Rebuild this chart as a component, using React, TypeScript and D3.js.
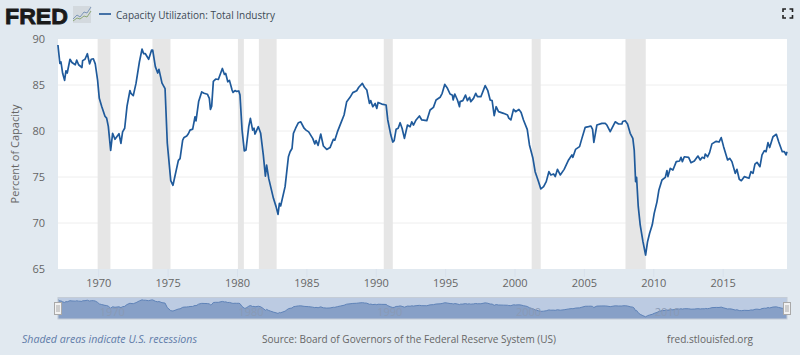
import React from "react";
import * as d3 from "d3";

const years = [1967,1967.14,1967.22,1967.34,1967.48,1967.58,1967.67,1967.87,1968.01,1968.25,1968.35,1968.49,1968.73,1968.78,1968.95,1969.12,1969.28,1969.4,1969.55,1969.69,1969.86,1969.98,1970.15,1970.39,1970.51,1970.63,1970.8,1970.94,1971.11,1971.4,1971.54,1971.66,1971.81,1971.98,1972.19,1972.26,1972.43,1972.63,1972.87,1973.06,1973.18,1973.3,1973.54,1973.75,1973.83,1974.02,1974.19,1974.28,1974.5,1974.72,1974.88,1975.13,1975.29,1975.68,1975.8,1975.99,1976.09,1976.28,1976.4,1976.52,1976.71,1976.88,1976.95,1977.14,1977.36,1977.53,1977.77,1977.91,1977.99,1978.08,1978.2,1978.37,1978.56,1978.85,1979,1979.09,1979.24,1979.36,1979.55,1979.62,1979.76,1979.88,1980.03,1980.12,1980.27,1980.43,1980.55,1980.75,1980.87,1981.03,1981.13,1981.2,1981.44,1981.61,1981.8,1981.95,1982.04,1982.19,1982.33,1982.53,1982.72,1982.86,1982.96,1983.05,1983.37,1983.61,1983.73,1983.87,1983.97,1984.13,1984.33,1984.5,1984.74,1984.88,1985.07,1985.36,1985.51,1985.6,1985.75,1985.94,1986.13,1986.37,1986.61,1986.85,1986.95,1987.14,1987.38,1987.62,1987.81,1988.05,1988.25,1988.53,1988.68,1988.94,1989.09,1989.26,1989.45,1989.54,1989.69,1989.86,1989.98,1990.07,1990.34,1990.65,1990.77,1990.99,1991.13,1991.23,1991.37,1991.52,1991.66,1991.8,1991.97,1992.19,1992.38,1992.5,1992.62,1992.81,1993.05,1993.22,1993.58,1993.82,1994.06,1994.25,1994.54,1994.69,1994.88,1995.07,1995.26,1995.43,1995.48,1995.6,1995.79,1995.94,1995.98,1996.18,1996.37,1996.51,1996.66,1996.75,1996.95,1997.11,1997.23,1997.48,1997.79,1997.98,1998.15,1998.29,1998.44,1998.58,1998.75,1999.11,1999.4,1999.49,1999.64,1999.83,1999.98,2000.22,2000.38,2000.55,2000.82,2000.98,2001.23,2001.39,2001.63,2001.8,2002,2002.19,2002.38,2002.52,2002.72,2002.84,2003,2003.2,2003.48,2003.8,2004.04,2004.11,2004.3,2004.59,2004.76,2005,2005.24,2005.41,2005.53,2005.62,2005.84,2006.2,2006.44,2006.56,2006.8,2007.16,2007.4,2007.64,2007.7,2007.88,2008.05,2008.24,2008.43,2008.53,2008.63,2008.7,2008.82,2008.96,2009.16,2009.35,2009.49,2009.64,2009.83,2009.97,2010.17,2010.31,2010.53,2010.77,2010.89,2010.96,2011.13,2011.32,2011.56,2011.8,2011.9,2012,2012.14,2012.45,2012.62,2012.86,2013.12,2013.29,2013.43,2013.58,2013.65,2013.82,2013.96,2014.13,2014.44,2014.64,2014.8,2014.97,2015.26,2015.41,2015.57,2015.81,2015.93,2016.1,2016.25,2016.46,2016.8,2016.94,2017.09,2017.23,2017.38,2017.59,2017.74,2017.91,2018.03,2018.17,2018.29,2018.53,2018.77,2018.94,2019.2,2019.35,2019.47,2019.54];
const values = [89.35,87.35,87.5,86.27,85.5,86.55,86.3,87.8,87.45,87.2,87.7,87.2,86.9,87.65,87.8,88.4,87.3,87.8,87.85,87.3,85.5,83.55,82.7,81.6,81.4,80.5,77.9,79.75,79.1,79.7,78.65,79.9,80.3,82.7,84.4,84.1,83.85,85.2,87.5,88.9,88.4,88.4,87.8,88.8,88.8,87,86.3,86.7,85.2,84.6,78.7,74.6,74.1,76.8,77,79,79.3,79.45,79.7,80.1,80.2,81.55,81.1,83.2,84.25,84.1,84,83.55,82.35,82.7,85.4,85.65,85.6,86.8,86.15,86.25,85.35,85.5,84.45,84.2,84.4,84.3,84.35,83.9,80.1,77.83,77.93,80.47,81.38,80.1,80.3,79.67,80.47,79.75,77.4,75.1,76.3,74.85,73.95,72.68,71.78,70.94,72.14,71.85,73.95,77.2,77.75,78.1,79.75,80.3,80.9,81,80.3,80.1,79.9,79.2,78.6,78.95,78.44,79.67,78.37,78,78.2,79.1,79,79.9,80.83,81.74,83.19,83.66,84.17,84.38,84.75,85.18,84.75,84.46,83,83.3,82.64,83,82.46,83.1,82.93,82.83,81.2,79.56,78.8,78.95,80.18,80.3,80.9,80.3,79.2,80.65,80.47,81,80.65,81.2,81.63,81.2,81.12,82.28,82.57,83.37,83.66,84.1,85.07,84.64,84.02,83.88,83.37,84.02,83.37,82.64,83.19,83.3,83.91,83.3,83.66,83.19,83.55,84.1,83.73,83.73,84.93,84.38,83.37,83.3,81.67,82.64,82.1,81.92,81.74,81.4,81.2,82.35,82.1,82.35,82,81.2,80.18,78.48,77.03,75.58,74.5,73.7,73.95,74.5,75.58,75.22,75.33,75.05,75.83,75.22,75.83,76.85,77.4,77.14,78,78.3,79.2,80.4,80.47,80.54,80.18,78.77,80.65,80.83,80.83,80.65,79.93,81,80.76,80.76,81.03,81.12,80.76,79.75,79.2,77.93,74.5,74.96,71.8,69.8,67.97,66.52,67.97,68.88,69.8,71.05,72.3,73.6,74.67,74.96,75.7,75.04,75.94,75.76,76.67,76.74,77.14,76.67,77.2,77.14,76.56,76.74,77.28,76.85,77.14,77.03,77.5,77.2,77.65,78.6,78.88,78.8,79.28,78.3,76.85,77.03,76.67,75.4,75.84,74.75,74.6,75.04,74.86,75.58,75.4,76.4,76.6,76.12,77.4,77.86,77.75,78.73,78.2,79.38,79.64,78.84,77.75,77.75,77.4,77.75];

const recessionStarts = [1969.92,1973.87,1980.03,1981.54,1990.54,2001.2,2007.96];
const recessionEnds = [1970.84,1975.17,1980.46,1982.82,1991.19,2001.85,2009.42];
const yTicks = [65,70,75,80,85,90];
const xTicks = [1970,1975,1980,1985,1990,1995,2000,2005,2010,2015];
const navTicks = [1970,1980,1990,2000,2010];
// the dates above were read about 0.06 of a year early
const READING_SHIFT = 0.06;

const FONT = "'Open Sans', 'Noto Sans', sans-serif";
const W = 800, H = 355;
const left = 58, right = 787, top = 39, bottom = 269;
const navTop = 298, navBottom = 319;

export default function App() {
  const x = d3.scaleLinear().domain([1967, 2019.6]).range([57.1, right]);
  const y = d3.scaleLinear().domain([65, 90]).range([bottom, top]);
  const ny = d3.scaleLinear().domain([66.5, 89.35]).range([316.8, 299.5]);
  const pts = years.map((t, i) => [t + READING_SHIFT, values[i]] as [number, number]);
  const line = d3.line<[number, number]>().x(d => x(d[0])).y(d => y(d[1]));
  const navLine = d3.line<[number, number]>().x(d => x(d[0])).y(d => ny(d[1]));
  const navArea = d3.area<[number, number]>().x(d => x(d[0])).y0(navBottom).y1(d => ny(d[1]));

  return (
    <svg width={W} height={H} viewBox={`0 0 ${W} ${H}`}
      style={{ position: "fixed", left: 0, top: 0, display: "block", fontFamily: FONT }}>
      <rect width={W} height={H} fill="#e1e9f0" />

      {/* logo */}
      <text x={5} y={23.5} fontFamily="'Liberation Sans', sans-serif" fontWeight={700} fontSize={22.5}
        fill="#1a1a1a" stroke="#1a1a1a" strokeWidth={0.8} textLength={63} lengthAdjust="spacingAndGlyphs">FRED</text>
      <rect x={73} y={6} width={18} height={17} fill="#d3d9de" />
      <polyline points="73,19 77,15 80,17 84,12 87,13 91,7" fill="none" stroke="#7d97b8" strokeWidth={1} />
      <polyline points="73,21 77,18 80,19 84,16 87,17 91,11" fill="none" stroke="#8da878" strokeWidth={1} />

      {/* legend */}
      <line x1={99} x2={111} y1={14} y2={14} stroke="#4572a7" strokeWidth={2} />
      <text x={116} y={18.5} fontSize={11.3} fill="#3d4a55" textLength={159} lengthAdjust="spacingAndGlyphs">Capacity Utilization: Total Industry</text>

      {/* fullscreen icon */}
      <g stroke="#222" strokeWidth={1.6} fill="none">
        <path d="M783,12 V9 H786" /><path d="M789.5,9 H792.5 V12" /><path d="M792.5,15 V18 H789.5" /><path d="M786,18 H783 V15" />
      </g>

      {/* plot */}
      <rect x={left} y={top} width={right - left} height={bottom - top} fill="#fff" />
      {yTicks.slice(1, -1).map(t => (
        <line key={t} x1={left} x2={right} y1={y(t)} y2={y(t)} stroke="#eeeeee" strokeWidth={1} />
      ))}
      {recessionStarts.map((s, i) => (
        <rect key={s} x={x(s)} y={top} width={x(recessionEnds[i]) - x(s)} height={bottom - top} fill="#e6e6e6" />
      ))}
      {yTicks.map(t => (
        <text key={t} x={45} y={y(t) + 4} textAnchor="end" fontSize={11} fill="#666">{t}</text>
      ))}
      {xTicks.map(t => (
        <g key={t}>
          <line x1={x(t)} x2={x(t)} y1={bottom} y2={bottom + 8} stroke="#d8e1ec" strokeWidth={1} />
          <text x={x(t)} y={287} textAnchor="middle" fontSize={11} fill="#666">{t}</text>
        </g>
      ))}
      <path d={line(pts) ?? ""} fill="none" stroke="#1f5a9b" strokeWidth={1.7} strokeLinejoin="round" />

      <text transform="translate(19,154) rotate(-90)" textAnchor="middle" fontSize={11} fill="#666">Percent of Capacity</text>

      {/* navigator */}
      <rect x={left} y={navTop} width={right - left} height={navBottom - navTop} fill="#bccbe2" />
      <path d={navArea(pts) ?? ""} fill="#87a0c7" />
      <path d={navLine(pts) ?? ""} fill="none" stroke="#5f83b8" strokeWidth={1} />
      {navTicks.map(t => (
        <text key={t} x={x(t) + 13.5} y={316} textAnchor="middle" fontSize={11} fill="#8a9ab5">{t}</text>
      ))}
      <rect x={left} y={297.5} width={right - left} height={21.5} fill="none" stroke="#c4ccd6" strokeWidth={1} />
      {[left, right].map(h => (
        <g key={h}>
          <rect x={h - 3.5} y={302.5} width={7} height={12} fill="#f2f2f2" stroke="#a9a9a9" strokeWidth={1} />
          <line x1={h - 1} x2={h - 1} y1={305} y2={312} stroke="#a9a9a9" strokeWidth={1} />
          <line x1={h + 1} x2={h + 1} y1={305} y2={312} stroke="#a9a9a9" strokeWidth={1} />
        </g>
      ))}

      {/* footer */}
      <text x={22} y={342.5} fontSize={11} fontStyle="italic" fill="#5f7ba8" textLength={175} lengthAdjust="spacingAndGlyphs">Shaded areas indicate U.S. recessions</text>
      <text x={262} y={342.5} fontSize={11} fill="#666" textLength={294} lengthAdjust="spacingAndGlyphs">Source: Board of Governors of the Federal Reserve System (US)</text>
      <text x={667} y={342.5} fontSize={11} fill="#666" textLength={86} lengthAdjust="spacingAndGlyphs">fred.stlouisfed.org</text>
    </svg>
  );
}
